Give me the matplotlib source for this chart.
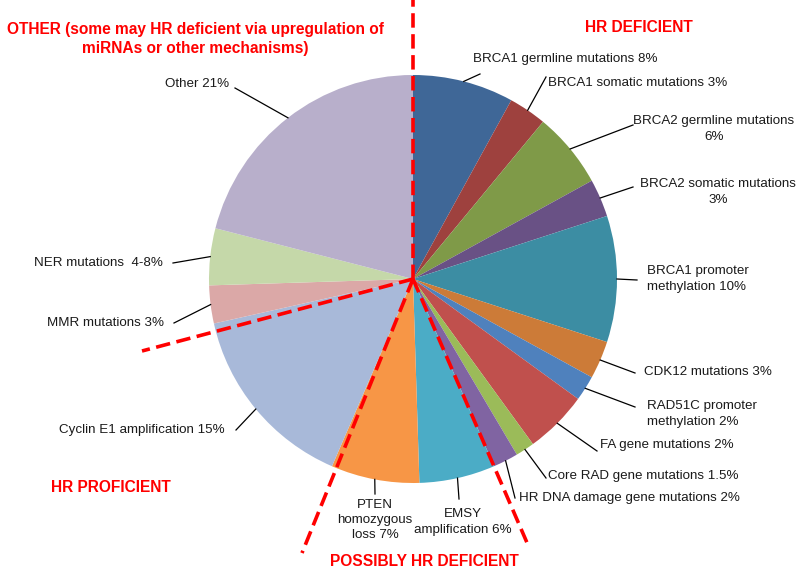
import matplotlib
matplotlib.use("Agg")
import numpy as np
import matplotlib.pyplot as plt

# slices, clockwise from 12 o'clock
labels = ["BRCA1 germline mutations 8%", "BRCA1 somatic mutations 3%",
          "BRCA2 germline mutations\n6%", "BRCA2 somatic mutations\n3%",
          "BRCA1 promoter\nmethylation 10%", "CDK12 mutations 3%",
          "RAD51C promoter\nmethylation 2%", "FA gene mutations 2%",
          "Core RAD gene mutations 1.5%", "HR DNA damage gene mutations 2%",
          "EMSY\namplification 6%", "PTEN\nhomozygous\nloss 7%",
          "Cyclin E1 amplification 15%", "MMR mutations 3%",
          "NER mutations  4-8%", "Other 21%"]
values = [8, 3, 6, 3, 10, 3, 2, 5, 1.5, 2, 6, 7, 15, 3, 4.5, 21]
colors = ["#3F6797", "#9E413E", "#7F9A48", "#695185", "#3C8DA3", "#CC7B38",
          "#4F81BD", "#C0504D", "#9BBB59", "#8064A2", "#4BACC6", "#F79646",
          "#A8B9D9", "#DBA8A7", "#C5D8A9", "#B8AFCB"]

groups = ["HR DEFICIENT", "POSSIBLY HR DEFICIENT", "HR PROFICIENT",
          "OTHER (some may HR deficient via upregulation of\nmiRNAs or other mechanisms)"]

H = 571
FONT = "Liberation Sans"

# label layout in pixel coords (y down): text x, text y, alignment, leader end
label_pos = [
    (473, 59, "left", 480, 74),
    (548, 83, "left", 546, 77),
    (714, 129, "center", 633, 125),
    (718, 192, "center", 633, 187),
    (647, 279, "left", 637, 280),
    (644, 372, "left", 635, 373),
    (647, 414, "left", 635, 407),
    (600, 445, "left", 597, 451),
    (548, 476, "left", 546, 478),
    (519, 498, "left", 515, 498),
    (463, 522, "center", 459, 499),
    (375, 520, "center", 375, 494),
    (225, 430, "right", 236, 430),
    (164, 323, "right", 174, 323),
    (163, 263, "right", 173, 263),
    (229, 84, "right", 235, 88),
]

group_pos = [(639, 28, "center"), (424, 561, "center"), (111, 488, "center"),
             (195, 39, "center")]

fig = plt.figure(figsize=(8, 5.71), dpi=100)
ax = fig.add_axes([0, 0, 1, 1])

cx, cy, r = 413, H - 279, 204
wedges, _ = ax.pie(values, colors=colors, startangle=90, counterclock=False,
                   center=(cx, cy), radius=r, frame=True,
                   wedgeprops=dict(linewidth=0))
ax.set_xlim(0, 800)
ax.set_ylim(0, H)
ax.set_aspect("equal")
ax.axis("off")

for w, lab, (tx, ty, ha, lx, ly) in zip(wedges, labels, label_pos):
    mid = np.deg2rad((w.theta1 + w.theta2) / 2)
    ex, ey = cx + r * np.cos(mid), cy + r * np.sin(mid)
    ax.plot([ex, lx], [ey, H - ly], color="black", lw=0.9, zorder=3)
    ax.text(tx, H - ty, lab, ha=ha, va="center", fontsize=9.6, family=FONT,
            linespacing=1.38, color="#1a1a1a", zorder=4)

for g, (gx, gy, ha) in zip(groups, group_pos):
    ax.text(gx, H - gy, g, ha=ha, va="center", fontsize=11.2, family=FONT,
            fontweight="bold", color="#FF0000", linespacing=1.3, zorder=4)

# dividing red dashed lines
dash = dict(color="#FF0000", lw=2.6, linestyle=(0, (4, 1.8)), zorder=5)
for px, py in [(413, 0), (142, 351), (302, 553), (528, 545)]:
    ax.plot([cx, px], [cy, H - py], **dash)

fig.savefig("out.png", dpi=100)
